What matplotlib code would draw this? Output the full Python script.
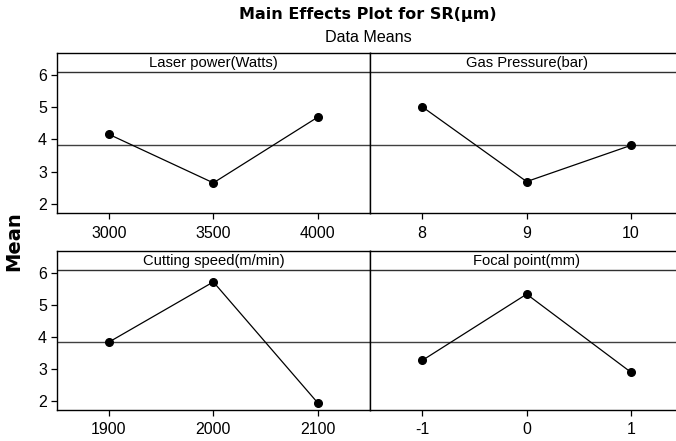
import matplotlib
matplotlib.use("Agg")
import matplotlib.pyplot as plt

# ---- data ----
factor_names = ["Laser power(Watts)", "Gas Pressure(bar)",
                "Cutting speed(m/min)", "Focal point(mm)"]
laser_levels = ["3000", "3500", "4000"]
laser_means = [4.16, 2.66, 4.69]
gas_levels = ["8", "9", "10"]
gas_means = [5.01, 2.70, 3.82]
speed_levels = ["1900", "2000", "2100"]
speed_means = [3.84, 5.71, 1.95]
focal_levels = ["-1", "0", "1"]
focal_means = [3.27, 5.33, 2.90]
grand_mean = 3.84
y_ticks = [2, 3, 4, 5, 6]

title = "Main Effects Plot for SR(\u03bcm)"
subtitle = "Data Means"
ylabel = "Mean"

plt.rcParams['font.family'] = ['Liberation Sans', 'DejaVu Sans']

W, H = 676, 441
fig = plt.figure(figsize=(W / 100, H / 100), dpi=100)

def frac_rect(x0, y0, x1, y1):
    return [x0 / W, 1 - y1 / H, (x1 - x0) / W, (y1 - y0) / H]

rects = [
    frac_rect(56.7, 52.7, 370, 213),
    frac_rect(370, 52.7, 683.3, 213),
    frac_rect(56.7, 250.7, 370, 410),
    frac_rect(370, 250.7, 683.3, 410),
]
panels = [(laser_levels, laser_means), (gas_levels, gas_means),
          (speed_levels, speed_means), (focal_levels, focal_means)]

ylo, yhi, strip_y = 1.73, 6.68, 6.07

for i, (rect, (lv, mv)) in enumerate(zip(rects, panels)):
    ax = fig.add_axes(rect)
    ax.plot(lv, mv, color='black', lw=0.9, marker='o', ms=5.5,
            markerfacecolor='black', markeredgecolor='black', zorder=3)
    ax.axhline(grand_mean, color='#404040', lw=1.0, zorder=2)
    ax.axhline(strip_y, color='#303030', lw=1.0, zorder=2)
    ax.set_xlim(-0.5, 2.5)
    ax.set_ylim(ylo, yhi)
    ax.text(0.5, (strip_y + yhi) / 2, factor_names[i], transform=ax.get_yaxis_transform(),
            ha='center', va='center', fontsize=10.6, color='black')
    for s in ax.spines.values():
        s.set_color('black')
        s.set_linewidth(1.0)
    ax.tick_params(axis='x', direction='out', length=4, width=0.9,
                   labelsize=11.5, pad=5, colors='black')
    if i % 2 == 0:
        ax.set_yticks(y_ticks)
        ax.set_yticklabels([str(t) for t in y_ticks])
        ax.tick_params(axis='y', direction='out', length=4, width=0.9,
                       labelsize=11.5, pad=3, colors='black')
    else:
        ax.set_yticks([])

fig.text(368 / W, 1 - 15 / H, title, ha='center', va='center',
         fontsize=11.5, fontweight='bold', family=['DejaVu Sans'])
fig.text(368.5 / W, 1 - 37 / H, subtitle, ha='center', va='center',
         fontsize=11.6)
fig.text(14 / W, 1 - 241 / H, ylabel, ha='center', va='center',
         rotation=90, fontsize=14, fontweight='bold', family=['DejaVu Sans'])

fig.savefig("out.png", dpi=100)
